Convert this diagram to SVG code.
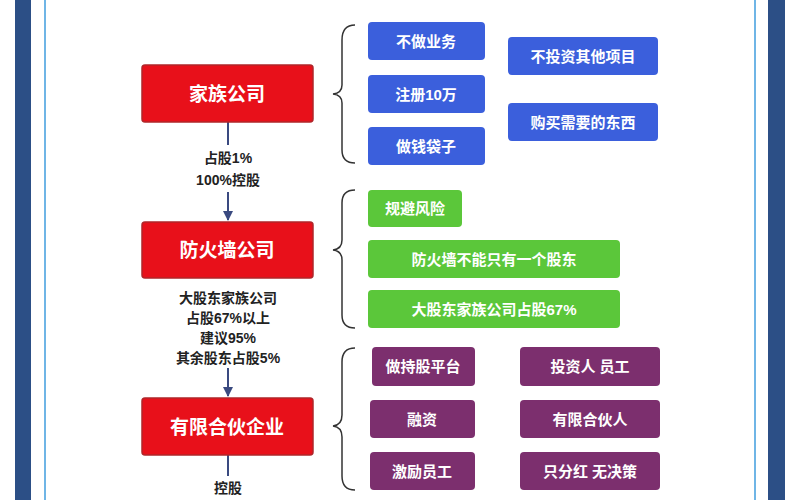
<svg xmlns="http://www.w3.org/2000/svg" width="800" height="500" viewBox="0 0 800 500">
<style>
text{font-family:"Liberation Sans","Noto Sans CJK SC",sans-serif;text-anchor:middle;dominant-baseline:central;font-weight:bold}
.r rect{fill:#e8101a;stroke:#b0262a;stroke-width:1.5}
.r text{fill:#fff;font-size:19px}
.b rect{fill:#3b5fdc}.g rect{fill:#5bc73a}.p rect{fill:#7c2f6e}
.b text,.g text,.p text{fill:#fff;font-size:15px}
.l{font-size:14px;fill:#222}
.ln{stroke:#3a4a80;stroke-width:2;fill:none}
.br{stroke:#333;stroke-width:1.5;fill:none}
</style>
<defs><marker id="a" viewBox="0 0 10 10" refX="9" refY="5" markerWidth="5" markerHeight="5" orient="auto"><path d="M0,0L10,5L0,10z" fill="#3a4a80"/></marker></defs>
<rect width="800" height="500" fill="#fff"/>
<rect x="15" y="0" width="16" height="500" fill="#2c4f86"/>
<rect x="768" y="0" width="17" height="500" fill="#2c4f86"/>
<line x1="45" y1="0" x2="45" y2="500" stroke="#6fb5e6" stroke-width="2"/>
<line x1="755" y1="0" x2="755" y2="500" stroke="#6fb5e6" stroke-width="2"/>
<g id="connectors">
<line class="ln" x1="228" y1="122" x2="228" y2="145"/>
<line class="ln" x1="228" y1="192" x2="228" y2="220" marker-end="url(#a)"/>
<line class="ln" x1="228" y1="368" x2="228" y2="396" marker-end="url(#a)"/>
<line class="ln" x1="228" y1="455" x2="228" y2="476"/>
<path class="br" d="M355,25 Q342,25 342,40 L342,85 Q342,93 333,94 Q342,95 342,103 L342,150 Q342,163 355,163"/>
<path class="br" d="M355,190 Q342,190 342,203 L342,240 Q342,249 333,250 Q342,251 342,260 L342,315 Q342,328 355,328"/>
<path class="br" d="M355,348 Q342,348 342,362 L342,415 Q342,425 333,426 Q342,427 342,437 L342,476 Q342,490 355,490"/>
</g>
<g class="l">
<text class="l" x="228" y="158">占股1%</text>
<text class="l" x="228" y="180">100%控股</text>
<text class="l" x="228" y="298">大股东家族公司</text>
<text class="l" x="228" y="318">占股67%以上</text>
<text class="l" x="228" y="338">建议95%</text>
<text class="l" x="228" y="358">其余股东占股5%</text>
<text class="l" x="228" y="488">控股</text>
</g>
<g id="n1" class="r"><rect x="142" y="65" width="171" height="57" rx="3"/><text x="227" y="94">家族公司</text></g>
<g id="n2" class="r"><rect x="142" y="222" width="171" height="56" rx="3"/><text x="227" y="250">防火墙公司</text></g>
<g id="n3" class="r"><rect x="142" y="398" width="171" height="57" rx="3"/><text x="227" y="427">有限合伙企业</text></g>
<g id="b1" class="b"><rect x="368" y="22" width="117" height="38" rx="4"/><text x="426" y="41">不做业务</text></g>
<g id="b2" class="b"><rect x="368" y="75" width="117" height="38" rx="4"/><text x="426" y="94">注册10万</text></g>
<g id="b3" class="b"><rect x="368" y="127" width="117" height="38" rx="4"/><text x="426" y="146">做钱袋子</text></g>
<g id="b4" class="b"><rect x="508" y="37" width="150" height="38" rx="4"/><text x="583" y="56">不投资其他项目</text></g>
<g id="b5" class="b"><rect x="508" y="103" width="150" height="38" rx="4"/><text x="583" y="122">购买需要的东西</text></g>
<g id="g1" class="g"><rect x="368" y="190" width="94" height="37" rx="4"/><text x="415" y="208">规避风险</text></g>
<g id="g2" class="g"><rect x="368" y="240" width="252" height="38" rx="4"/><text x="494" y="259">防火墙不能只有一个股东</text></g>
<g id="g3" class="g"><rect x="368" y="290" width="252" height="38" rx="4"/><text x="494" y="309">大股东家族公司占股67%</text></g>
<g id="p1" class="p"><rect x="372" y="347" width="103" height="39" rx="4"/><text x="423" y="366">做持股平台</text></g>
<g id="p2" class="p"><rect x="520" y="347" width="140" height="39" rx="4"/><text x="590" y="366">投资人 员工</text></g>
<g id="p3" class="p"><rect x="370" y="400" width="105" height="38" rx="4"/><text x="422" y="419">融资</text></g>
<g id="p4" class="p"><rect x="520" y="400" width="140" height="38" rx="4"/><text x="590" y="419">有限合伙人</text></g>
<g id="p5" class="p"><rect x="370" y="452" width="105" height="38" rx="4"/><text x="422" y="471">激励员工</text></g>
<g id="p6" class="p"><rect x="520" y="452" width="140" height="38" rx="4"/><text x="590" y="471">只分红 无决策</text></g>
</svg>
